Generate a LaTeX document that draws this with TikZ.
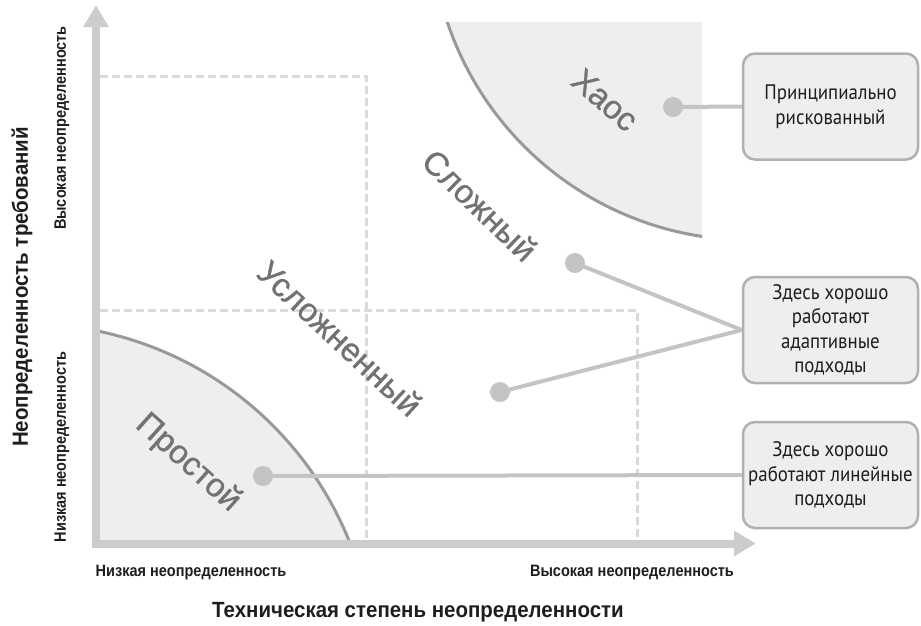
\documentclass[tikz,border=0pt]{standalone}
\usepackage{fontspec}
\setmainfont{Liberation Sans}
\newfontfamily\zonefont[FakeBold=0.9]{Liberation Sans}
\newfontfamily\boxfont[FakeStretch=0.9]{PT Sans}
\newfontfamily\axfont[FakeStretch=0.93]{Liberation Sans}
\newfontfamily\axsmallfont[FakeStretch=0.88]{Liberation Sans}
\usetikzlibrary{arrows.meta}
\definecolor{axisgray}{HTML}{CCCCCC}
\definecolor{dashgray}{HTML}{DADADA}
\definecolor{regfill}{HTML}{EEEEEE}
\definecolor{arcgray}{HTML}{999999}
\definecolor{dotgray}{HTML}{C4C4C4}
\definecolor{zonegray}{HTML}{727272}
\definecolor{boxborder}{HTML}{B0B0B0}
\definecolor{boxfill}{HTML}{EEEEEE}
\definecolor{txtdark}{HTML}{1E1E1E}
\tikzset{
  axisline/.style={draw=axisgray, line width=8pt, -{Triangle[width=24pt,length=22pt]}},
  dashline/.style={draw=dashgray, line width=3pt, dash pattern=on 8pt off 4pt},
  arcline/.style={draw=arcgray, line width=3pt},
  dot/.style={circle, fill=dotgray, minimum size=20pt, inner sep=0pt},
  conn/.style={draw=dotgray, line width=4pt},
  zone/.style={text=zonegray, font=\zonefont\fontsize{33}{40}\selectfont, inner sep=0pt},
  callout/.style={draw=boxborder, line width=2.5pt, fill=boxfill, rounded corners=12pt,
    minimum width=175pt, minimum height=106pt, align=center, inner sep=0pt,
    text=txtdark, font=\boxfont\fontsize{21}{24.5}\selectfont},
  axsmall/.style={text=txtdark, font=\axsmallfont\bfseries\fontsize{16.5}{18}\selectfont, inner sep=0pt},
  axtitle/.style={text=txtdark, font=\axfont\bfseries\fontsize{22}{26}\selectfont, inner sep=0pt}
}
\begin{document}
\begin{tikzpicture}[x=1pt,y=-1pt]
\useasboundingbox (0,0) rectangle (921,625);
% dashed grid
\draw[dashline] (100,76) -- (366,76) -- (366,540);
\draw[dashline] (100,310) -- (637,310) -- (637,540);
% simple region
\begin{scope}
\clip (96,0) rectangle (921,543);
\fill[regfill] (28,670) circle[radius=346pt];
\draw[arcline] (28,670) circle[radius=346pt];
\end{scope}
% chaos region
\begin{scope}
\clip (430,22) rectangle (702,300);
\fill[regfill] (750,-79) circle[radius=319pt];
\draw[arcline] (750,-79) circle[radius=319pt];
\end{scope}
% axes
\draw[axisline] (96,548) -- (96,5);
\draw[axisline] (92,543.5) -- (756,543.5);
% zone labels
\node[zone, rotate=-41] (chaos) at (605,100) {Хаос};
\node[zone, rotate=-44] (complex) at (480,205) {Сложный};
\node[zone, rotate=-43] (complicated) at (340,338) {Усложненный};
\node[zone, rotate=-42] (simple) at (188,463) {Простой};
% dots
\node[dot] (dchaos) at (673,107) {};
\node[dot] (dcomplex) at (575,263) {};
\node[dot] (dcompl) at (500,392) {};
\node[dot] (dsimple) at (263,476) {};
% boxes
\node[callout] (b1) at (830.5,106.5) {Принципиально\\рискованный};
\node[callout] (b2) at (830.5,330) {Здесь хорошо\\работают\\адаптивные\\подходы};
\node[callout] (b3) at (830.5,475) {Здесь хорошо\\работают линейные\\подходы};
% connectors
\draw[conn] (dchaos.center) -- (b1.west);
\draw[conn] (dcomplex.center) -- (b2.west);
\draw[conn] (dcompl.center) -- (b2.west);
\draw[conn] (dsimple.center) -- (b3.west);
% axis labels
\node[axtitle, rotate=90] (ytitle) at (22,287) {Неопределенность требований};
\node[axsmall, rotate=90] (yhigh) at (62,128) {Высокая неопределенность};
\node[axsmall, rotate=90] (ylow) at (62,447) {Низкая неопределенность};
\node[axsmall] (xlow) at (191,573) {Низкая неопределенность};
\node[axsmall] (xhigh) at (632,573) {Высокая неопределенность};
\node[axtitle] (xtitle) at (418,612) {Техническая степень неопределенности};
\end{tikzpicture}
\end{document}
